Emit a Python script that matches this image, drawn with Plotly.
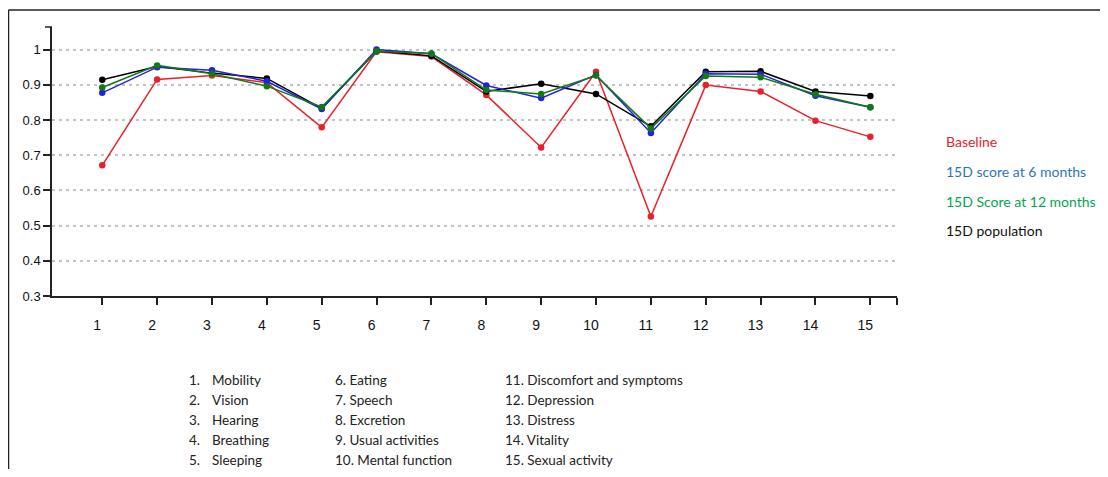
import plotly.graph_objects as go

# ---------------- data ----------------
dimensions = list(range(1, 16))
baseline = [0.671, 0.915, 0.926, 0.906, 0.779, 0.994, 0.980, 0.871, 0.722, 0.937, 0.526, 0.899, 0.881, 0.798, 0.752]
score_6m = [0.877, 0.950, 0.941, 0.910, 0.831, 1.000, 0.988, 0.898, 0.862, 0.928, 0.763, 0.931, 0.930, 0.869, 0.836]
score_12m = [0.892, 0.955, 0.931, 0.896, 0.837, 0.995, 0.989, 0.885, 0.874, 0.926, 0.776, 0.925, 0.921, 0.873, 0.836]
population = [0.914, 0.952, 0.933, 0.918, 0.833, 0.996, 0.982, 0.881, 0.903, 0.874, 0.782, 0.937, 0.938, 0.881, 0.868]

series_names = ["Baseline", "15D score at 6 months", "15D Score at 12 months", "15D population"]
y_ticks = [0.3, 0.4, 0.5, 0.6, 0.7, 0.8, 0.9, 1.0]
y_tick_text = ["0.3", "0.4", "0.5", "0.6", "0.7", "0.8", "0.9", "1"]

dimension_labels = [
    "Mobility", "Vision", "Hearing", "Breathing", "Sleeping",
    "Eating", "Speech", "Excretion", "Usual activities", "Mental function",
    "Discomfort and symptoms", "Depression", "Distress", "Vitality", "Sexual activity",
]

# ---------------- layout geometry (pixels, in page coordinates) ----------------
OFF = 8  # page body margin
W, H = 1108 - 2 * OFF, 477 - 2 * OFF  # fit the window without scrollbars
L, R, T, B = 52, 897, 27, 296  # plot area in page px
X_RANGE = [0.084, 15.486]
Y_RANGE = [0.3, 1.064]


def px2x(px):
    return (px - L) / (R - L)


def px2y(py):
    return (B - py) / (B - T)


line_colors = ["#e8202a", "#2222dd", "#137a13", "#000000"]
text_colors = ["#e0262e", "#2e75b6", "#00a651", "#111111"]
series = [baseline, score_6m, score_12m, population]
draw_order = [0, 3, 1, 2]

fig = go.Figure()
for i in draw_order:
    fig.add_trace(go.Scatter(
        x=dimensions, y=series[i], name=series_names[i], mode="lines+markers",
        line=dict(color=line_colors[i], width=1.5),
        marker=dict(color=line_colors[i], size=6.5),
        showlegend=False,
    ))

annotations = []
# right-hand legend texts
leg_y = [141.7, 171.4, 201.1, 230.8]
for i in range(4):
    annotations.append(dict(
        xref="paper", yref="paper", x=px2x(944), y=px2y(leg_y[i]),
        xanchor="left", yanchor="middle", showarrow=False,
        text=series_names[i], font=dict(family="Lato", size=14, color=text_colors[i]),
    ))

# bottom list of dimensions
row_y = [380, 400, 420, 440, 460]
lf = dict(family="Lato", size=13.5, color="#222222")
for k, name in enumerate(dimension_labels):
    col, row = divmod(k, 5)
    num = k + 1
    y = px2y(row_y[row])
    if col == 0:
        annotations.append(dict(xref="paper", yref="paper", x=px2x(186.5), y=y,
                                xanchor="left", yanchor="middle", showarrow=False,
                                text=f"{num}.", font=lf))
        annotations.append(dict(xref="paper", yref="paper", x=px2x(210), y=y,
                                xanchor="left", yanchor="middle", showarrow=False,
                                text=name, font=lf))
    else:
        xs = 333 if col == 1 else 503
        annotations.append(dict(xref="paper", yref="paper", x=px2x(xs), y=y,
                                xanchor="left", yanchor="middle", showarrow=False,
                                text=f"{num}. {name}", font=lf))

shapes = [
    # outer frame (top and left edges)
    dict(type="line", xref="paper", yref="paper", x0=px2x(8.5), x1=px2x(1120),
         y0=px2y(10), y1=px2y(10), line=dict(color="#222222", width=1.5)),
    dict(type="line", xref="paper", yref="paper", x0=px2x(8.5), x1=px2x(8.5),
         y0=px2y(10), y1=px2y(490), line=dict(color="#222222", width=1.5)),
    # end tick at top of y-axis
    dict(type="line", xref="paper", yref="paper", x0=px2x(45), x1=px2x(L),
         y0=1, y1=1, line=dict(color="#222222", width=1.5)),
]

fig.update_layout(
    width=W, height=H,
    margin=dict(l=L - OFF, r=(1108 - OFF) - R, t=T - OFF, b=(477 - OFF) - B, pad=0),
    paper_bgcolor="white", plot_bgcolor="white",
    annotations=annotations, shapes=shapes,
    xaxis=dict(
        range=X_RANGE, tickmode="array",
        tickvals=dimensions + [X_RANGE[1]],
        ticktext=[str(d) for d in dimensions] + [""],
        ticks="outside", ticklen=7, tickwidth=1.5, tickcolor="#222222",
        showline=True, linecolor="#222222", linewidth=1.5,
        showgrid=False, zeroline=False,
        tickfont=dict(family="Liberation Sans", size=14, color="#111111"),
        ticklabelstandoff=8, ticklabelshift=-5,
    ),
    yaxis=dict(
        range=Y_RANGE, tickmode="array", tickvals=y_ticks, ticktext=y_tick_text,
        ticks="outside", ticklen=7, tickwidth=1.5, tickcolor="#222222",
        showline=True, linecolor="#222222", linewidth=1.5,
        showgrid=True, gridcolor="#c4c4c4", gridwidth=2, griddash="3px,4px",
        zeroline=False,
        tickfont=dict(family="Liberation Sans", size=13, color="#111111"),
    ),
)

fig.write_html("out.html")
